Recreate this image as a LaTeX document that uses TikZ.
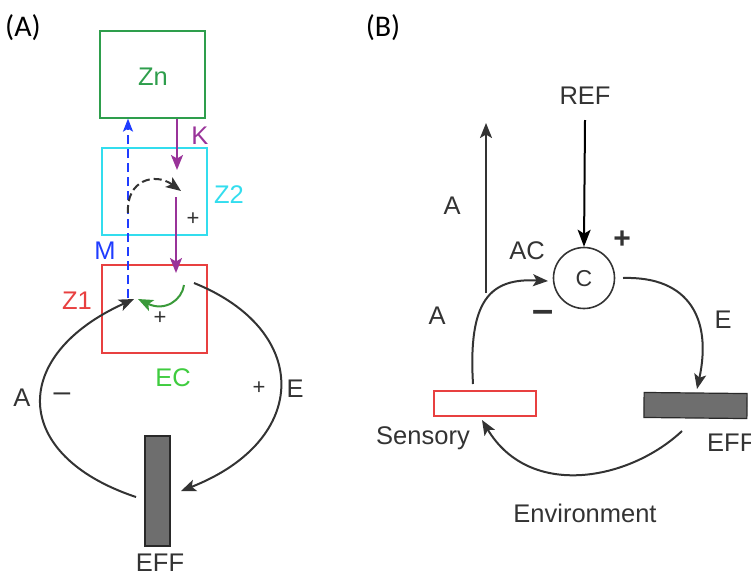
\documentclass[tikz,border=0pt]{standalone}
\usepackage{fontspec}
\setmainfont{Liberation Sans}
\newfontfamily\calib{Carlito}
\usetikzlibrary{arrows.meta}
\definecolor{txt}{HTML}{333333}
\definecolor{zngreen}{HTML}{2E9E4C}
\definecolor{zcyan}{HTML}{33DDEE}
\definecolor{zred}{HTML}{E84040}
\definecolor{ecgreen}{HTML}{3FCC3F}
\definecolor{mblue}{HTML}{1F3CFF}
\definecolor{kpurple}{HTML}{993399}
\definecolor{agreen}{HTML}{3A9A3A}
\definecolor{effgray}{HTML}{6E6E6E}
\tikzset{
  lbl/.style={text=txt, font=\fontsize{25.5}{28}\selectfont, inner sep=0pt},
  sml/.style={text=txt, font=\fontsize{22}{24}\selectfont, inner sep=0pt},
  tip/.style={-{Stealth[length=15pt,width=12pt,inset=3.5pt]}},
  conn/.style={draw=txt, line width=2pt, tip},
  zbox/.style={draw, line width=1.2pt, inner sep=0pt, minimum width=105pt},
  effbox/.style={draw=txt!80!black, fill=effgray, line width=1.2pt, inner sep=0pt},
}
\begin{document}
\begin{tikzpicture}[x=1pt,y=-1pt]
\useasboundingbox (0,0) rectangle (751,576);
% ---------- Panel A ----------
\node[text=black, font=\calib\fontsize{30}{32}\selectfont, inner sep=0pt] (labA) at (23,28) {(A)};
\node[zbox, draw=zngreen, minimum height=87pt] (zn) at (152.5,74.5) {};
\node[lbl, text=zngreen] (zntext) at (153,77) {Zn};
\node[zbox, draw=zcyan, minimum height=87pt] (z2) at (154.5,191.5) {};
\node[lbl, text=zcyan] (z2text) at (229,195) {Z2};
\node[zbox, draw=zred, minimum height=88pt] (z1) at (154.5,309) {};
\node[lbl, text=zred] (z1text) at (77,301) {Z1};
\node[lbl, text=mblue] (mtext) at (105,251) {M};
\node[lbl, text=kpurple] (ktext) at (200,136) {K};
\node[sml] (plusz2) at (193,219) {+};
\node[sml] (plusz1) at (160,318) {+};
\node[lbl, text=ecgreen] (ectext) at (173,378) {EC};
\node[lbl] (atextA) at (22,398) {A};
\node[text=txt, font=\fontsize{30}{30}\selectfont, inner sep=0pt] (minusA) at (62,397) {\textendash};
\node[sml] (plusA) at (259,388) {+};
\node[lbl] (etextA) at (295,389) {E};
\node[effbox, minimum width=25pt, minimum height=110pt] (effA) at (157.5,491) {};
\node[lbl] (efftextA) at (160,563) {EFF};

\coordinate (mstart) at (128,298);
\coordinate (kin) at (177,170);
\coordinate (kout) at (176,197);
\coordinate (kend) at (176,273);
\coordinate (dstart) at (128,213);
\coordinate (dend) at (181,191);
\coordinate (gstart) at (184,285);
\coordinate (gend) at (138,299);
\coordinate (astart) at (136,497);
\coordinate (aend) at (134,299);
\coordinate (estart) at (194,283);
\coordinate (eend) at (181,491);

\draw[mblue, line width=2pt, dash pattern=on 9pt off 5pt, -{Stealth[length=13pt,width=10pt,inset=3pt]}] (mstart) -- (mstart |- zn.south);
\draw[kpurple, line width=2pt, tip] (zn.south -| kin) -- (kin);
\draw[kpurple, line width=2pt, tip] (kout) -- (kend);
\draw[txt, line width=2pt, dash pattern=on 8pt off 4pt, tip] (dstart) .. controls (126,180) and (155,172) .. (dend);
\draw[agreen, line width=2pt, tip] (gstart) .. controls (182,300) and (165,312) .. (gend);
\draw[conn] (astart) .. controls (10,455) and (10,355) .. (aend);
\draw[conn] (estart) .. controls (311,330) and (311,440) .. (eend);

% ---------- Panel B ----------
\node[text=black, font=\calib\fontsize{30}{32}\selectfont, inner sep=0pt] (labB) at (383,28) {(B)};
\node[lbl] (reftext) at (585,96) {REF};
\node[draw=txt, line width=1.6pt, circle, minimum size=61pt, inner sep=0pt] (c) at (584,278) {};
\node[lbl, font=\fontsize{23}{26}\selectfont] (ctext) at (584,279) {C};
\node[text=txt, font=\bfseries\fontsize{30}{32}\selectfont, inner sep=0pt] (plusC) at (622,240) {+};
\node[text=txt, font=\bfseries\fontsize{38}{38}\selectfont, inner sep=0pt] (minusC) at (543,316) {\textendash};
\node[lbl] (actext) at (527,251) {AC};
\node[lbl] (aupper) at (452,206) {A};
\node[lbl] (alower) at (437,316) {A};
\node[lbl] (etextB) at (723,320) {E};
\node[draw=zred, line width=1.2pt, minimum width=102pt, minimum height=25pt, inner sep=0pt] (sens) at (485,403.5) {};
\node[lbl] (senstext) at (423,438) {Sensory};
\node[effbox, minimum width=103pt, minimum height=25pt, rotate=-0.6] (effB) at (695.5,405.5) {};
\node[lbl, anchor=west] (efftextB) at (707,443) {EFF};
\node[lbl] (envtext) at (585,513) {Environment};

\coordinate (refstart) at (585,120);
\coordinate (upbase) at (486,293);
\coordinate (uptip) at (486,123);
\coordinate (acstart) at (473,384);
\coordinate (acend) at (548,281);
\coordinate (ecstart) at (623,278);
\coordinate (ecend) at (697,389);
\coordinate (envstart) at (682,431);
\coordinate (envend) at (482,420);

\draw[black, line width=2pt, -{Stealth[length=17pt,width=13pt,inset=4pt]}] (refstart) -- (c.north);
\draw[conn] (upbase) -- (uptip);
\draw[conn] (acstart) .. controls (468,300) and (490,278) .. (acend);
\draw[conn] (ecstart) .. controls (690,276) and (712,320) .. (ecend);
\draw[conn] (envstart) .. controls (630,480) and (530,500) .. (envend);
\end{tikzpicture}
\end{document}
